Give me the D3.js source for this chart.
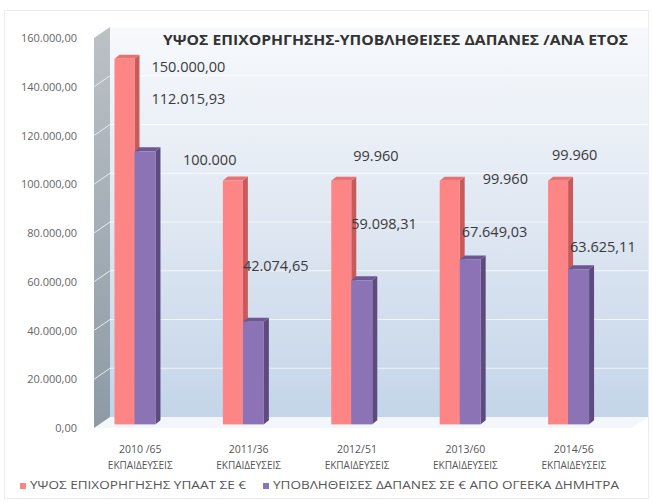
<!DOCTYPE html>
<html>
<head>
<meta charset="utf-8">
<script src="https://cdn.jsdelivr.net/npm/d3@7"></script>
<style>
  body { margin: 0; background: #fff; }
  svg text { font-family: "Open Sans", "Noto Sans", sans-serif; }
</style>
</head>
<body>
<div id="chart"></div>
<script>
(function () {
  const categories = ["2010 /65", "2011/36", "2012/51", "2013/60", "2014/56"];
  const subLabel = "ΕΚΠΑΙΔΕΥΣΕΙΣ";
  const grantValues = [150000, 100000, 99960, 99960, 99960];
  const spentValues = [112015.93, 42074.65, 59098.31, 67649.03, 63625.11];
  const grantLabels = ["150.000,00", "100.000", "99.960", "99.960", "99.960"];
  const spentLabels = ["112.015,93", "42.074,65", "59.098,31", "67.649,03", "63.625,11"];
  const yTicks = [0, 20000, 40000, 60000, 80000, 100000, 120000, 140000, 160000];
  const seriesNames = [
    "ΥΨΟΣ ΕΠΙΧΟΡΗΓΗΣΗΣ ΥΠΑΑΤ ΣΕ €",
    "ΥΠΟΒΛΗΘΕΙΣΕΣ ΔΑΠΑΝΕΣ ΣΕ € ΑΠΟ ΟΓΕΕΚΑ ΔΗΜΗΤΡΑ",
  ];
  const title = "ΥΨΟΣ ΕΠΙΧΟΡΗΓΗΣΗΣ-ΥΠΟΒΛΗΘΕΙΣΕΣ ΔΑΠΑΝΕΣ /ΑΝΑ ΕΤΟΣ";

  // data-label nudges (Excel labels were dragged by hand)
  const grantLabelOffset = [[37, 8], [-40, -21], [22, -25], [43, -2], [4, -26]];
  const spentLabelOffset = [[17, -52], [0, -56], [0, -56], [2, -27], [2, -22]];

  const width = 652;
  const height = 502;

  // 3d depth of the plot box
  const depthX = 16;
  const depthY = -11;
  const barDepth = 0.33; // bars sit a third of the way back
  const barSideX = 5;
  const barSideY = -4;

  const svg = d3
    .select("#chart")
    .append("svg")
    .attr("width", width)
    .attr("height", height);

  const defs = svg.append("defs");
  const wallGrad = defs
    .append("linearGradient")
    .attr("id", "wall")
    .attr("x1", 0).attr("y1", 0).attr("x2", 0).attr("y2", 1);
  wallGrad.append("stop").attr("offset", "0%").attr("stop-color", "#f7f9fc");
  wallGrad.append("stop").attr("offset", "45%").attr("stop-color", "#e2e9f3");
  wallGrad.append("stop").attr("offset", "100%").attr("stop-color", "#c4d5e9");

  const sideGrad = defs
    .append("linearGradient")
    .attr("id", "side")
    .attr("x1", 0).attr("y1", 0).attr("x2", 0).attr("y2", 1);
  sideGrad.append("stop").attr("offset", "0%").attr("stop-color", "#bcc1c6");
  sideGrad.append("stop").attr("offset", "100%").attr("stop-color", "#8d9aa6");

  // chart area border
  svg
    .append("rect")
    .attr("x", 4.5).attr("y", 10.5)
    .attr("width", 644).attr("height", 488)
    .attr("fill", "#fff")
    .attr("stroke", "#ececec");

  const yScale = d3.scaleLinear().domain([0, 160000]).range([428, 38]);
  const xScale = d3.scaleBand().domain(categories).range([86, 628]);

  const left = 94;
  const right = 632;
  const yBack = (v) => yScale(v) + depthY;

  // back wall
  svg
    .append("rect")
    .attr("x", left + depthX)
    .attr("y", yBack(160000))
    .attr("width", right - left)
    .attr("height", yBack(0) - yBack(160000))
    .attr("fill", "url(#wall)");

  // floor
  svg
    .append("path")
    .attr(
      "d",
      `M${left},${yScale(0)} L${left + depthX},${yBack(0)} L${right + depthX},${yBack(0)} L${right},${yScale(0)} Z`
    )
    .attr("fill", "#f3f6fa");

  // side wall
  svg
    .append("path")
    .attr(
      "d",
      `M${left},${yScale(0)} L${left},${yScale(160000)} L${left + depthX},${yBack(160000)} L${left + depthX},${yBack(0)} Z`
    )
    .attr("fill", "url(#side)");

  // gridlines on back wall and side wall
  svg
    .selectAll("line.grid-back")
    .data(yTicks.slice(1))
    .join("line")
    .attr("class", "grid-back")
    .attr("x1", left + depthX)
    .attr("x2", right + depthX)
    .attr("y1", (d) => yBack(d))
    .attr("y2", (d) => yBack(d))
    .attr("stroke", "#ffffff")
    .attr("stroke-opacity", 0.7);

  svg
    .selectAll("line.grid-side")
    .data(yTicks.slice(1, -1))
    .join("line")
    .attr("class", "grid-side")
    .attr("x1", left)
    .attr("x2", left + depthX)
    .attr("y1", (d) => yScale(d))
    .attr("y2", (d) => yBack(d))
    .attr("stroke", "#e8ecf0")
    .attr("stroke-width", 1);

  // y axis labels
  svg
    .selectAll("text.ytick")
    .data(yTicks)
    .join("text")
    .attr("class", "ytick")
    .attr("x", 77)
    .attr("y", (d) => yScale(d) + 4)
    .attr("text-anchor", "end")
    .attr("font-size", 11)
    .attr("fill", "#666")
    .text((d) => d3.format(",.2f")(d).replace(/,/g, "#").replace(".", ",").replace(/#/g, "."));

  // bars
  const barY = (v) => yScale(v) + depthY * barDepth;
  const barShift = depthX * barDepth;

  function drawBars(values, cls, dxFront, barWidth, colors) {
    const g = svg
      .selectAll(`g.${cls}`)
      .data(values)
      .join("g")
      .attr("class", cls);

    const x0 = (d, i) => xScale(categories[i]) + xScale.bandwidth() / 2 + dxFront + barShift - 6;

    g.append("path")
      .attr("d", (d, i) => {
        const x = x0(d, i) + barWidth;
        const yt = barY(d);
        const yb = barY(0);
        return `M${x},${yb} L${x},${yt} L${x + barSideX},${yt + barSideY} L${x + barSideX},${yb + barSideY} Z`;
      })
      .attr("fill", colors.side);

    g.append("path")
      .attr("d", (d, i) => {
        const x = x0(d, i);
        const yt = barY(d);
        return `M${x},${yt} L${x + barSideX},${yt + barSideY} L${x + barWidth + barSideX},${yt + barSideY} L${x + barWidth},${yt} Z`;
      })
      .attr("fill", colors.top);

    g.append("rect")
      .attr("x", (d, i) => x0(d, i))
      .attr("y", (d) => barY(d))
      .attr("width", barWidth)
      .attr("height", (d) => barY(0) - barY(d))
      .attr("fill", colors.front);

    return x0;
  }

  const xGrant = drawBars(grantValues, "bar-grant", -25, 20, {
    front: "#fd8585",
    side: "#c95a5a",
    top: "#e87272",
  });
  const xSpent = drawBars(spentValues, "bar-spent", -5, 21, {
    front: "#8c73b5",
    side: "#5d4a7f",
    top: "#6d5894",
  });

  // data labels
  svg
    .selectAll("text.label-grant")
    .data(grantValues)
    .join("text")
    .attr("class", "label-grant")
    .attr("x", (d, i) => xGrant(d, i) + grantLabelOffset[i][0])
    .attr("y", (d, i) => barY(d) + grantLabelOffset[i][1] + 5)
    .attr("font-size", 14.5)
    .attr("fill", "#3a3a3a")
    .text((d, i) => grantLabels[i]);

  svg
    .selectAll("text.label-spent")
    .data(spentValues)
    .join("text")
    .attr("class", "label-spent")
    .attr("x", (d, i) => xSpent(d, i) + spentLabelOffset[i][0])
    .attr("y", (d, i) => barY(d) + spentLabelOffset[i][1] + 5)
    .attr("font-size", 14.5)
    .attr("fill", "#3a3a3a")
    .text((d, i) => spentLabels[i]);

  // category labels
  const catG = svg
    .selectAll("g.cat")
    .data(categories)
    .join("g")
    .attr("class", "cat")
    .attr("transform", (d) => `translate(${xScale(d) + xScale.bandwidth() / 2},0)`);
  catG
    .append("text")
    .attr("y", 453)
    .attr("text-anchor", "middle")
    .attr("font-size", 10.5)
    .attr("fill", "#555")
    .text((d) => d);
  catG
    .append("text")
    .attr("y", 469)
    .attr("text-anchor", "middle")
    .attr("font-size", 10)
    .attr("fill", "#555")
    .text(subLabel);

  // title
  svg
    .append("text")
    .attr("x", 163)
    .attr("y", 45)
    .attr("font-size", 14)
    .attr("font-weight", "bold")
    .attr("fill", "#333")
    .attr("textLength", 465)
    .attr("lengthAdjust", "spacingAndGlyphs")
    .text(title);

  // legend
  const legendColors = ["#fd8585", "#8c73b5"];
  const legendX = [20, 263];
  const legendW = [226, 356];
  const legend = svg
    .selectAll("g.legend")
    .data(seriesNames)
    .join("g")
    .attr("class", "legend")
    .attr("transform", (d, i) => `translate(${legendX[i]},489)`);
  legend
    .append("rect")
    .attr("x", 0)
    .attr("y", -6)
    .attr("width", 6)
    .attr("height", 6)
    .attr("fill", (d, i) => legendColors[i]);
  legend
    .append("text")
    .attr("x", 10)
    .attr("y", 0)
    .attr("font-size", 10)
    .attr("fill", "#555")
    .attr("textLength", (d, i) => legendW[i] - 10)
    .attr("lengthAdjust", "spacingAndGlyphs")
    .text((d) => d);
})();
</script>
</body>
</html>
